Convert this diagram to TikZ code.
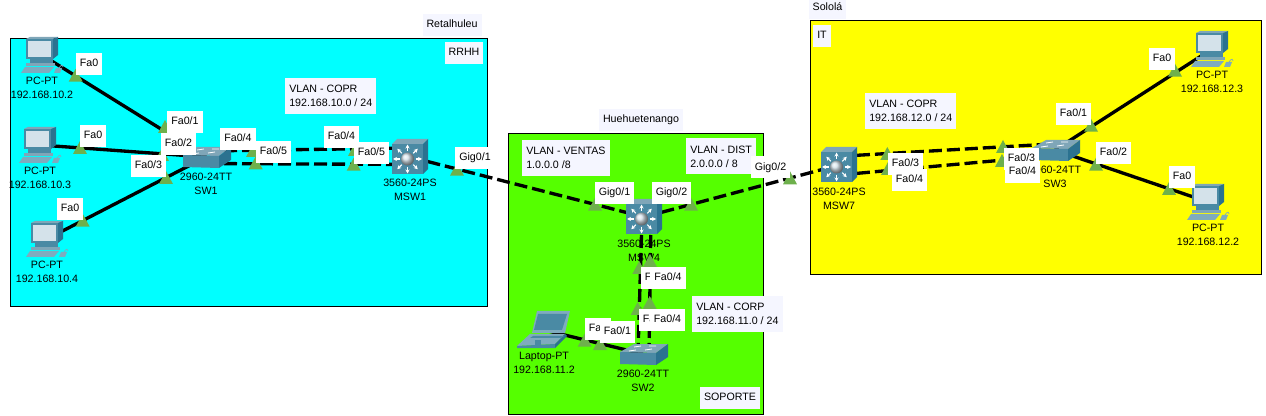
\documentclass[tikz,border=0pt]{standalone}
\usepackage{fontspec}
\setmainfont{Liberation Sans}
\usepackage{tikz}
\usetikzlibrary{arrows.meta}
\definecolor{retalbg}{HTML}{00FFFF}
\definecolor{huehuebg}{HTML}{55FF00}
\definecolor{sololabg}{HTML}{FFFF00}
\definecolor{notebg}{HTML}{F5F6FF}
\definecolor{portacc}{HTML}{6EB04C}
\definecolor{icontop}{HTML}{7FA6B8}
\definecolor{iconfront}{HTML}{4A8AA4}
\definecolor{iconside}{HTML}{2B7290}
\definecolor{iconscreen}{HTML}{D4E2EA}
\definecolor{iconlight}{HTML}{7FABBE}

\tikzset{
  pics/pcdev/.style={code={
    \fill[iconfront] (-16,-16) rectangle (11,4);
    \fill[icontop] (-16,-16) -- (-12,-18) -- (16,-18) -- (11,-16) -- cycle;
    \fill[iconside] (11,-16) -- (16,-18) -- (16,0) -- (11,4) -- cycle;
    \fill[iconscreen] (-14,-14) rectangle (9,2);
    \fill[iconfront] (-12,4) rectangle (11,8);
    \fill[icontop] (-16,8) rectangle (13,11);
    \fill[iconlight] (-17,12) -- (12,12) -- (7,18) -- (-21,18) -- cycle;
    \fill[iconlight] (14,13) -- (20,13) -- (18,18) -- (12,18) -- cycle;
    \draw[iconlight, line width=.5pt] (17,13) .. controls (19,9) and (22,10) .. (21,12);
  }},
  pics/swdev/.style={code={
    \fill[icontop] (-23,-2) -- (-9,-10) -- (25,-10) -- (13,-1) -- cycle;
    \fill[iconfront] (-23,-2) -- (13,-1) -- (13,11) -- (-23,10) -- cycle;
    \fill[iconside] (13,-1) -- (25,-10) -- (25,3) -- (13,11) -- cycle;
    \draw[white, line width=.6pt] (-9,-7) -- (-2,-8) (6,-8) -- (13,-8) (-14,-3) -- (-7,-4) (2,-4) -- (9,-5);
  }},
  pics/mswdev/.style={code={
    \fill[iconfront] (-18,-13) rectangle (13,17);
    \fill[icontop] (-18,-13) -- (-13,-18) -- (18,-18) -- (13,-13) -- cycle;
    \fill[iconside] (13,-13) -- (18,-18) -- (18,12) -- (13,17) -- cycle;
    \foreach \a in {0,45,...,315} {
      \draw[white, line width=.8pt, -{Stealth[length=3pt,width=3pt]}] (-2.5,2) ++(\a:8) -- ++(\a:6.5);
    }
    \shade[ball color=iconscreen] (-2.5,2) circle (6.5);
  }},
  pics/lapdev/.style={code={
    \fill[iconlight] (-7,-19) -- (26,-19) -- (21,3) -- (-12,3) -- cycle;
    \fill[iconfront] (-6,-16) -- (23,-16) -- (18,0) -- (-10,0) -- cycle;
    \fill[iconlight] (-14,4) -- (21,4) -- (11,14) -- (-27,16) -- cycle;
    \fill[iconfront] (-27,16) -- (11,14) -- (11,18) -- (-27,18) -- cycle;
    \fill[iconside] (21,4) -- (23,6) -- (11,18) -- (11,14) -- cycle;
    \fill[iconfront] (-11,6) -- (20,6) -- (17,8) -- (-14,8) -- cycle;
    \fill[iconfront] (-9,10) rectangle (-3,15);
  }}
}

\begin{document}
\begin{tikzpicture}[
  x=0.75pt, y=-0.75pt,
  every node/.style={font=\fontsize{8}{10.5}\selectfont},
  region/.style={draw=black, line width=0.7pt},
  pcdev/.style={minimum width=32pt, minimum height=27pt, inner sep=0pt},
  swdev/.style={minimum width=36pt, minimum height=17pt, inner sep=0pt},
  mswdev/.style={minimum width=27pt, minimum height=27pt, inner sep=0pt},
  lapdev/.style={minimum width=40pt, minimum height=28pt, inner sep=0pt},
  devtxt/.style={align=center, inner sep=0pt},
  link/.style={black, line width=2.5pt},
  trunk/.style={link, dash pattern=on 9.75pt off 3.75pt},
  tag/.style={fill=notebg, inner xsep=3pt, inner ysep=0pt, minimum height=16.5pt, text height=5.8pt, text depth=1.7pt},
  port/.style={tag, fill=white},
  note/.style={fill=notebg, align=left, anchor=west, inner xsep=3pt, inner ysep=0pt, minimum height=27pt}
]
\useasboundingbox (0,0) rectangle (1266,416);

% --- regions ---
\draw[region, fill=retalbg] (10.5,38) rectangle (487,306);
\draw[region, fill=huehuebg] (508,133) rectangle (763,414);
\draw[region, fill=sololabg] (810.5,20.5) rectangle (1261,274);

% --- region names ---
\foreach \n/\x/\y/\t in {retal/452/25/Retalhuleu, huehue/641/120/Huehuetenango, solola/827.5/8/Sololá,
  rrhh/464/53/RRHH, it/822/36/IT, soporte/730/398/SOPORTE} {
  \node[tag] (\n) at (\x,\y) {\t};
}

% --- vlan notes ---
\foreach \n/\x/\y/\a/\b in {copr1/285/96/VLAN - COPR/{192.168.10.0 / 24}, ventas/522/158/VLAN - VENTAS/{1.0.0.0 /8},
  dist/686/156.5/VLAN - DIST/{2.0.0.0 / 8}, corp/692/314/VLAN - CORP/{192.168.11.0 / 24},
  copr2/865/111/VLAN - COPR/{192.168.12.0 / 24}} {
  \node[note] (\n) at (\x,\y) {\a\\\b};
}

% --- devices ---
\foreach \n/\x/\y/\k/\d/\a/\b in {pc1/42/55/pcdev/26/PC-PT/192.168.10.2, pc2/40/145/pcdev/26/PC-PT/192.168.10.3,
  pc3/47/239/pcdev/26/PC-PT/192.168.10.4, sw1/206/157/swdev/20/2960-24TT/SW1, msw1/410/157/mswdev/26/3560-24PS/MSW1,
  msw4/644/217/mswdev/27/3560-24PS/MSW4, sw2/643/354/swdev/20/2960-24TT/SW2, lap1/544/330/lapdev/26/Laptop-PT/192.168.11.2,
  msw7/839/165/mswdev/27/3560-24PS/MSW7, sw3/1055/150/swdev/20/2960-24TT/SW3, pc4/1212/49/pcdev/26/PC-PT/192.168.12.3,
  pc5/1208/202/pcdev/26/PC-PT/192.168.12.2} {
  \node[\k] (\n) at (\x,\y) {};
  \node[devtxt] (\n txt) at (\x,\y+\d+7) {\a\\\b};
}

% --- links ---
\foreach \a/\b in {pc1/sw1, pc2/sw1, pc3/sw1, lap1/sw2, sw3/pc4, sw3/pc5} {
  \draw[link] (\a.center) -- (\b.center);
}
\draw[trunk] (msw1.center) -- (msw4.center);
\draw[trunk] (msw4.center) -- (msw7.center);
\draw[trunk] ([yshift=4.5pt]sw1.center) -- ([yshift=6.75pt]msw1.center);
\draw[trunk] ([yshift=-4.9pt]sw1.center) -- ([yshift=-5.6pt]msw1.center);
\draw[trunk] ([xshift=-1.5pt]msw4.center) -- ([xshift=-3.75pt]sw2.center);
\draw[trunk] ([xshift=5.25pt]msw4.center) -- ([xshift=4.5pt]sw2.center);
\draw[trunk] ([yshift=6.5pt]msw7.center) -- ([yshift=4.65pt]sw3.center);
\draw[trunk] ([yshift=-7.5pt]msw7.center) -- ([yshift=-4pt]sw3.center);

% --- port marks ---
\foreach \x/\y in {75.7/81.7, 80/154, 82.7/226.7, 165/133, 162/161, 166/184, 253/157, 255.7/169.3, 355/156, 353.7/170.7,
  457/175.7, 595/210.7, 691/210.7, 790/184.3, 639.3/274, 650/267, 637.7/315, 649.7/309, 584.7/346.7, 600/350,
  887.3/160, 888/175, 1003/153, 1002/167, 1091/131.7, 1175/76.7, 1096/170.7, 1169/195} {
  \fill[portacc] (\x-7,\y) -- (\x+7,\y) -- (\x,\y-13) -- cycle;
}

% --- icons ---
\foreach \n/\k in {pc1/pcdev, pc2/pcdev, pc3/pcdev, pc4/pcdev, pc5/pcdev, sw1/swdev, sw2/swdev, sw3/swdev,
  msw1/mswdev, msw4/mswdev, msw7/mswdev, lap1/lapdev} {
  \pic at (\n) {\k};
}

% --- port labels ---
\foreach \n/\x/\y/\t in {l1/89/64/Fa0, l2/93/136/Fa0, l3/70/209/Fa0, l4/185/122/{Fa0/1}, l5/178.5/144/{Fa0/2},
  l6/148.5/166/{Fa0/3}, l7/238/139/{Fa0/4}, l8/273.5/152/{Fa0/5}, l9/341.5/137/{Fa0/4}, l10/371.5/153/{Fa0/5},
  l11/475/158/{Gig0/1}, l12/614.5/193/{Gig0/1}, l13/671.5/193/{Gig0/2}, l14/770.5/167.5/{Gig0/2},
  l15/658.5/278/{Fa0/4}, l16/668/278/{Fa0/4}, l17/656.5/320/{Fa0/4}, l18/667.5/320/{Fa0/4},
  l19/598/329/Fa0, l20/617.5/332/{Fa0/1}, l21/905.5/164/{Fa0/3}, l22/909.5/180/{Fa0/4},
  l23/1021.5/159/{Fa0/3}, l24/1022.5/172/{Fa0/4}, l25/1073.5/114/{Fa0/1}, l26/1162/59/Fa0,
  l27/1113.5/153/{Fa0/2}, l28/1182/177/Fa0} {
  \node[port] (\n) at (\x,\y) {\t};
}
\end{tikzpicture}
\end{document}
